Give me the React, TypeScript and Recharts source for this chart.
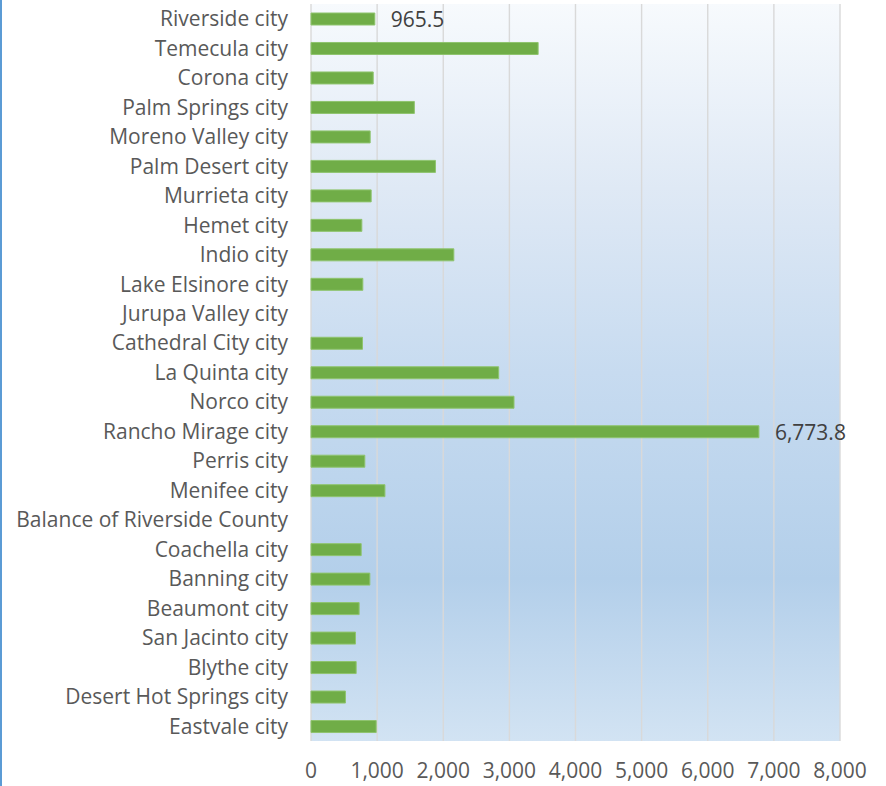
import { BarChart, Bar, XAxis, YAxis, CartesianGrid, LabelList } from 'recharts'

const cities = [
  'Riverside city',
  'Temecula city',
  'Corona city',
  'Palm Springs city',
  'Moreno Valley city',
  'Palm Desert city',
  'Murrieta city',
  'Hemet city',
  'Indio city',
  'Lake Elsinore city',
  'Jurupa Valley city',
  'Cathedral City city',
  'La Quinta city',
  'Norco city',
  'Rancho Mirage city',
  'Perris city',
  'Menifee city',
  'Balance of Riverside County',
  'Coachella city',
  'Banning city',
  'Beaumont city',
  'San Jacinto city',
  'Blythe city',
  'Desert Hot Springs city',
  'Eastvale city',
]

const values: (number | null)[] = [
  965.5, 3435, 941, 1563, 895, 1882, 910, 769, 2160, 784, null, 779, 2838, 3070, 6773.8,
  814, 1118, null, 759, 890, 728, 673, 683, 521, 986,
]

const labelledCities = ['Riverside city', 'Rancho Mirage city']

const xTicks = [0, 1000, 2000, 3000, 4000, 5000, 6000, 7000, 8000]

const data = cities.map((name, i) => ({
  name,
  value: values[i],
  label: labelledCities.includes(name) ? values[i] : null,
}))

const font = '"Open Sans", sans-serif'

const renderLabel = (props: any) => {
  const { x, y, width, height, value } = props
  if (value == null) return null
  return (
    <text
      x={x + width + 16}
      y={y + height / 2}
      dominantBaseline="central"
      fill="#404040"
      fontSize={21}
      fontFamily={font}
    >
      {Number(value).toLocaleString('en-US', { minimumFractionDigits: 1 })}
    </text>
  )
}

export default function App() {
  return (
    <div style={{ position: 'absolute', left: 0, top: 0, width: 886, height: 786, background: '#fff' }}>
      <BarChart
        width={886}
        height={786}
        data={data}
        layout="vertical"
        margin={{ top: 4, right: 46, bottom: 0, left: 0 }}
        barCategoryGap={0}
      >
        <defs>
          <linearGradient id="plotBg" x1="0" y1="0" x2="0" y2="1">
            <stop offset="0" stopColor="#f7fafd" />
            <stop offset="0.25" stopColor="#dfe9f5" />
            <stop offset="0.5" stopColor="#c7dbf0" />
            <stop offset="0.78" stopColor="#b3cfea" />
            <stop offset="1" stopColor="#d2e3f3" />
          </linearGradient>
        </defs>
        <CartesianGrid
          horizontal={false}
          vertical
          stroke="#d9d9d9"
          strokeWidth={1.4}
          fill="url(#plotBg)"
          fillOpacity={1}
        />
        <XAxis
          type="number"
          domain={[0, 8000]}
          ticks={xTicks}
          tickFormatter={(v: number) => v.toLocaleString('en-US')}
          axisLine={false}
          tickLine={false}
          tickSize={0}
          tickMargin={22}
          height={45}
          interval={0}
          tick={{ fill: '#595959', fontSize: 21, fontFamily: font }}
        />
        <YAxis
          type="category"
          dataKey="name"
          width={311}
          axisLine={false}
          tickLine={false}
          tickSize={0}
          tickMargin={23}
          interval={0}
          tick={{ fill: '#595959', fontSize: 21, fontFamily: font }}
        />
        <Bar
          dataKey="value"
          fill="#70ad47"
          stroke="#8fc46e"
          strokeWidth={1}
          barSize={12}
          isAnimationActive={false}
        >
          <LabelList dataKey="label" content={renderLabel} />
        </Bar>
      </BarChart>
      <div style={{ position: 'absolute', left: 0, top: 0, width: 2, height: 786, background: '#5b9bd5' }} />
    </div>
  )
}
